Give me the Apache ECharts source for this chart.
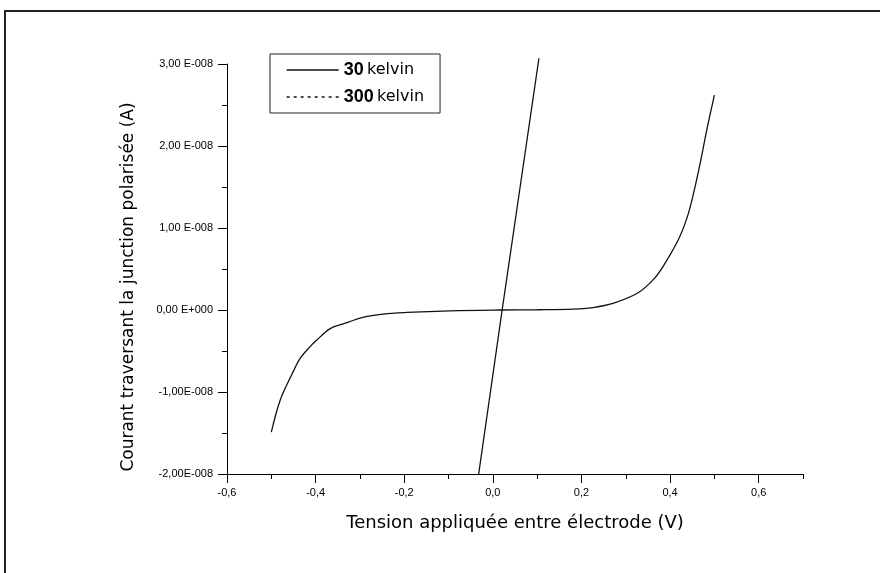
<!DOCTYPE html>
<html>
<head>
<meta charset="utf-8">
<script src="https://cdn.jsdelivr.net/npm/echarts@6/dist/echarts.min.js"></script>
<style>
html,body{margin:0;padding:0;background:#fff;}
#chart{width:880px;height:573px;}
</style>
</head>
<body>
<div id="chart"></div>
<script>
// Tension (V) and current (A), 30 kelvin curve
const v30 = [-0.5, -0.48, -0.454, -0.435, -0.413, -0.398, -0.368, -0.338, -0.293, -0.248, -0.194, -0.097, 0.016, 0.1, 0.181, 0.226, 0.271, 0.328, 0.362, 0.384, 0.418, 0.438, 0.452, 0.468, 0.483, 0.5];
const i30 = [-1.49e-8, -1.10e-8, -0.79e-8, -0.59e-8, -0.45e-8, -0.37e-8, -0.23e-8, -0.17e-8, -0.09e-8, -0.05e-8, -0.03e-8, -0.01e-8, 0, 0.003e-8, 0.01e-8, 0.03e-8, 0.08e-8, 0.21e-8, 0.37e-8, 0.53e-8, 0.85e-8, 1.12e-8, 1.40e-8, 1.79e-8, 2.20e-8, 2.62e-8];
// 300 kelvin curve
const v300 = [-0.032, 0.021, 0.104];
const i300 = [-2.0e-8, 0, 3.07e-8];
const seriesNames = ['30 kelvin', '300 kelvin'];
const xMajorTicks = [-0.6, -0.4, -0.2, 0, 0.2, 0.4, 0.6];
const xTitle = 'Tension appliquée entre électrode (V)';
const yTitle = 'Courant traversant la junction polarisée (A)';

const FONT = 'Liberation Sans, Arial, sans-serif';
const WIDE = 'DejaVu Sans, sans-serif';
const zip = (a, b) => a.map((x, i) => [x, b[i]]);

function fmtX(v) {
  if (Math.abs(v) < 1e-9) return '0,0';
  return v.toFixed(1).replace('.', ',');
}
function fmtY(v) {
  const m = Math.round(v / 1e-8 * 100) / 100;
  if (m === 0) return '0,00 E+000';
  const s = Math.abs(m).toFixed(2).replace('.', ',');
  return m < 0 ? '-' + s + 'E-008' : s + ' E-008';
}

const chart = echarts.init(document.getElementById('chart'));
chart.setOption({
  backgroundColor: '#ffffff',
  animation: false,
  graphic: [{
    type: 'rect', z: -10,
    shape: {x: 5, y: 11, width: 900, height: 600},
    style: {fill: 'none', stroke: '#222', lineWidth: 2}
  }],
  grid: {left: 227, top: 64, right: 77, bottom: 99, containLabel: false},
  legend: {
    orient: 'vertical',
    left: 270, top: 54,
    padding: [7, 16, 7, 16],
    backgroundColor: '#fff',
    borderColor: '#222',
    borderWidth: 1,
    borderRadius: 0,
    itemWidth: 52,
    itemHeight: 14,
    itemGap: 9,
    data: [
      {name: seriesNames[0], itemStyle: {opacity: 0}, lineStyle: {type: 'solid', color: '#111', width: 1.3}},
      {name: seriesNames[1], itemStyle: {opacity: 0}, lineStyle: {type: [3, 4], color: '#111', width: 1.3}}
    ],
    formatter: n => '{b|' + n.split(' ')[0] + '} {n|' + n.split(' ')[1] + '}',
    textStyle: {
      fontFamily: FONT, color: '#000',
      rich: {
        b: {fontFamily: FONT, fontWeight: 'bold', fontSize: 18, color: '#000'},
        n: {fontFamily: WIDE, fontSize: 16, color: '#000'}
      }
    }
  },
  xAxis: [{
    type: 'value',
    position: 'bottom',
    min: -0.6, max: 0.7, interval: 0.2,
    name: xTitle,
    nameLocation: 'middle',
    nameGap: 40,
    nameTextStyle: {fontFamily: WIDE, fontSize: 18, color: '#000'},
    axisLine: {onZero: false, lineStyle: {color: '#000', width: 1}},
    axisTick: {inside: false, length: 9, customValues: xMajorTicks, lineStyle: {color: '#000', width: 1}},
    minorTick: {show: false},
    splitLine: {show: false},
    axisLabel: {
      formatter: fmtX, margin: 13, customValues: xMajorTicks,
      fontFamily: FONT, fontSize: 11, color: '#000'
    }
  }, {
    type: 'value',
    position: 'bottom',
    offset: 0,
    min: -0.6, max: 0.7, interval: 0.1,
    axisLine: {show: false, onZero: false},
    axisTick: {show: true, inside: false, length: 5, lineStyle: {color: '#000', width: 1}},
    axisLabel: {show: false},
    splitLine: {show: false}
  }],
  yAxis: {
    type: 'value',
    min: -2e-8, max: 3e-8, interval: 1e-8,
    name: yTitle,
    nameLocation: 'middle',
    nameGap: 90,
    nameTextStyle: {fontFamily: WIDE, fontSize: 17, color: '#000', padding: [0, 36, 0, 0]},
    axisLine: {onZero: false, lineStyle: {color: '#000', width: 1}},
    axisTick: {inside: false, length: 9, lineStyle: {color: '#000', width: 1}},
    minorTick: {show: true, splitNumber: 2, length: 5, lineStyle: {color: '#000', width: 1}},
    splitLine: {show: false},
    axisLabel: {
      formatter: fmtY, margin: 14,
      fontFamily: FONT, fontSize: 11, color: '#000'
    }
  },
  series: [
    {
      name: seriesNames[0], type: 'line', data: zip(v30, i30),
      symbol: 'none', smooth: 0.35,
      lineStyle: {color: '#111', width: 1.3}, itemStyle: {color: '#111'}
    },
    {
      name: seriesNames[1], type: 'line', data: zip(v300, i300),
      symbol: 'none', clip: false,
      lineStyle: {color: '#111', width: 1.3}, itemStyle: {color: '#111'}
    }
  ]
});
</script>
</body>
</html>
